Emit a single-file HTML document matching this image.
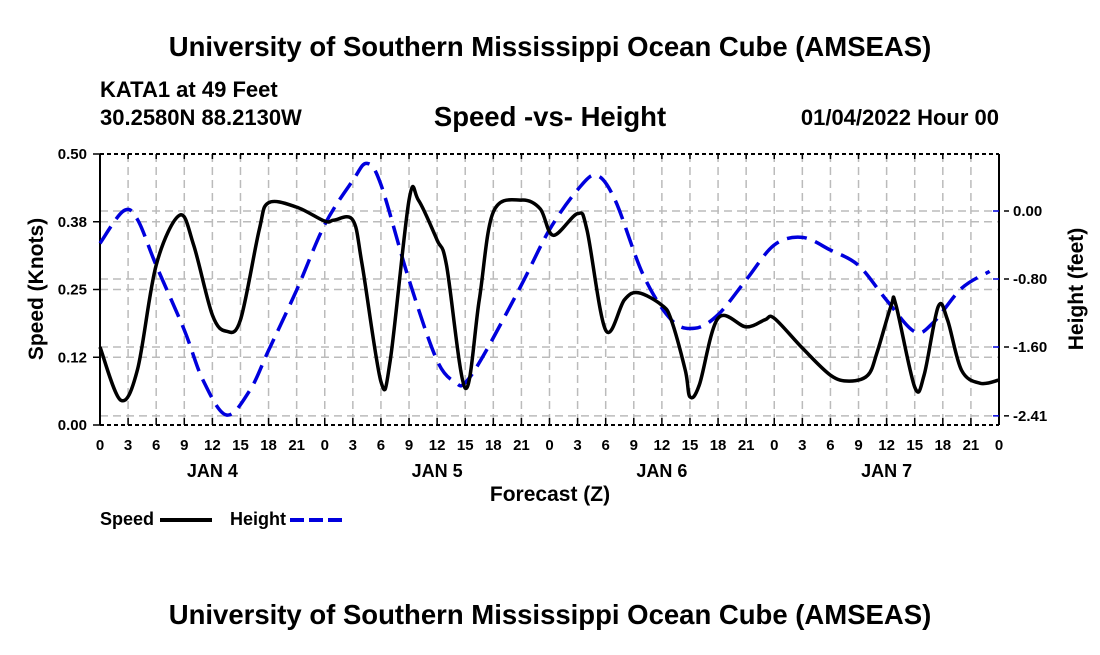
<!DOCTYPE html>
<html><head><meta charset="utf-8"><style>
body{margin:0;background:#fff;}
svg text{font-family:"Liberation Sans",Arial,sans-serif;font-weight:bold;fill:#000;}
</style></head><body>
<svg id="chart" width="1100" height="650" xmlns="http://www.w3.org/2000/svg">
<text x="550" y="56" font-size="27.5" text-anchor="middle">University of Southern Mississippi Ocean Cube (AMSEAS)</text>
<text x="100" y="97" font-size="22">KATA1 at 49 Feet</text>
<text x="100" y="125" font-size="22">30.2580N  88.2130W</text>
<text x="550" y="126" font-size="27.5" text-anchor="middle">Speed -vs- Height</text>
<text x="999" y="125" font-size="22" text-anchor="end">01/04/2022 Hour 00</text>
<g id="grid"></g>
<g id="axes"></g>
<g id="series"></g>
<text transform="translate(43,289) rotate(-90)" font-size="21" text-anchor="middle">Speed (Knots)</text>
<text transform="translate(1083,289) rotate(-90)" font-size="21" text-anchor="middle">Height (feet)</text>
<text x="550" y="501" font-size="21" text-anchor="middle">Forecast (Z)</text>
<g>
<text x="100" y="525" font-size="18">Speed</text>
<line x1="160" y1="520" x2="212" y2="520" stroke="#000" stroke-width="4"/>
<text x="230" y="525" font-size="18">Height</text>
<line x1="290" y1="520" x2="342" y2="520" stroke="#0000dd" stroke-width="4" stroke-dasharray="14,5"/>
</g>
<text x="550" y="624" font-size="27.5" text-anchor="middle">University of Southern Mississippi Ocean Cube (AMSEAS)</text>
</svg>
<script>
const speedHours=[0,2.2,4,6,8.5,10,12,13.5,15,17,18,21,24,25,27,28,30,31,33,34,36,37,39,40.5,42,45,47,48.4,51,52,54,56,57.5,60,61,62.5,63,64,66,69,71,72,75,78,80,82,83,84.5,85,87,88,89.5,90.5,92,94,96];
const speedValues=[0.144,0.046,0.102,0.295,0.387,0.332,0.203,0.173,0.194,0.36,0.41,0.402,0.376,0.378,0.378,0.295,0.08,0.12,0.415,0.415,0.341,0.295,0.068,0.231,0.393,0.415,0.399,0.35,0.39,0.36,0.175,0.231,0.244,0.221,0.194,0.101,0.052,0.074,0.197,0.181,0.194,0.197,0.142,0.092,0.081,0.092,0.135,0.221,0.221,0.07,0.092,0.218,0.194,0.101,0.077,0.083];
const heightHours=[0,2.5,4,6,9,11,13.5,16,18,21,24,27,28.5,30,33,36,38,39,41,45,48,51,53,55,58,61,63.5,66,69,72,75,78,81,84,87,89,92,95];
const heightValues=[-0.38,0.0,-0.1,-0.64,-1.4,-1.99,-2.4,-2.11,-1.64,-0.93,-0.16,0.36,0.56,0.31,-0.81,-1.76,-2.02,-2.02,-1.69,-0.87,-0.22,0.25,0.42,0.13,-0.75,-1.28,-1.38,-1.22,-0.81,-0.4,-0.31,-0.46,-0.64,-1.05,-1.42,-1.31,-0.91,-0.71];
const xTickLabels=["0","3","6","9","12","15","18","21"];
const speedTicks=[0,0.125,0.25,0.375,0.5];
const speedTickLabels=["0.00","0.12","0.25","0.38","0.50"];
const heightTicks=[0,-0.8,-1.6,-2.41];
const heightTickLabels=["0.00","-0.80","-1.60","-2.41"];
const dayLabels=["JAN 4","JAN 5","JAN 6","JAN 7"];

const X0=100,X1=999,YT=154,YB=425;
const xs=h=>X0+(X1-X0)*h/96;
const ys=v=>YB-(YB-YT)*v/0.5;
const yh=f=>211-85*f;
const NS="http://www.w3.org/2000/svg";
function mk(tag,attrs,parent){const e=document.createElementNS(NS,tag);for(const k in attrs)e.setAttribute(k,attrs[k]);parent.appendChild(e);return e;}
const gridG=document.getElementById('grid'),axesG=document.getElementById('axes'),seriesG=document.getElementById('series');
const gs={stroke:"#bbb","stroke-width":1.5,"stroke-dasharray":"8,5",fill:"none"};
for(let h=3;h<96;h+=3){const l=mk('line',Object.assign({x1:xs(h),x2:xs(h),y1:YT,y2:YB},gs),gridG);

}
speedTicks.slice(1,4).forEach(v=>{const l=mk('line',Object.assign({x1:X0,x2:X1,y1:ys(v),y2:ys(v)},gs),gridG);

});
heightTicks.forEach(v=>{const l=mk('line',Object.assign({x1:X0,x2:X1,y1:yh(v),y2:yh(v)},gs),gridG);

});
const topBorder=mk('line',{x1:X0,x2:X1,y1:YT,y2:YT,stroke:"#000","stroke-width":2,"stroke-dasharray":"4,3"},axesG);


const botBorder=mk('line',{x1:X0,x2:X1,y1:YB,y2:YB,stroke:"#000","stroke-width":2,"stroke-dasharray":"4,3"},axesG);


const leftAxis=mk('line',{x1:X0,x2:X0,y1:YT,y2:YB,stroke:"#000","stroke-width":2},axesG);


const rightAxis=mk('line',{x1:X1,x2:X1,y1:YT,y2:YB,stroke:"#000","stroke-width":2},axesG);


for(let i=0;i<=32;i++){const h=i*3;
const t=mk('line',{x1:xs(h),x2:xs(h),y1:YB,y2:YB-7,stroke:"#000","stroke-width":1.5},axesG);


const t2=mk('line',{x1:xs(h),x2:xs(h),y1:YT,y2:YT+5,stroke:"#000","stroke-width":1.5},axesG);


const tx=mk('text',{x:xs(h),y:450,"font-size":15,"text-anchor":"middle"},axesG);
tx.textContent=i==32?"0":xTickLabels[i%8];

}
dayLabels.forEach((d,i)=>{const t=mk('text',{x:xs(i*24+12),y:477,"font-size":18,"text-anchor":"middle"},axesG);t.textContent=d;

});
speedTicks.forEach((v,i)=>{const t=mk('line',{x1:X0,x2:X0-7,y1:ys(v),y2:ys(v),stroke:"#000","stroke-width":1.5},axesG);


const tx=mk('text',{x:87,y:ys(v)+5,"font-size":15,"text-anchor":"end"},axesG);tx.textContent=speedTickLabels[i];

});
heightTicks.forEach((v,i)=>{const t=mk('line',{x1:X1-6,x2:X1,y1:yh(v),y2:yh(v),stroke:"#0000dd","stroke-width":1.5},axesG);


const t2=mk('line',{x1:X1+5,x2:X1+10,y1:yh(v),y2:yh(v),stroke:"#000","stroke-width":1.5},axesG);


const tx=mk('text',{x:1013,y:yh(v)+5,"font-size":15},axesG);tx.textContent=heightTickLabels[i];

});
function smooth(pts){let d=`M${pts[0][0]},${pts[0][1]}`;
for(let i=0;i<pts.length-1;i++){const p0=pts[Math.max(0,i-1)],p1=pts[i],p2=pts[i+1],p3=pts[Math.min(pts.length-1,i+2)];
const c1=[p1[0]+(p2[0]-p0[0])/6,p1[1]+(p2[1]-p0[1])/6],c2=[p2[0]-(p3[0]-p1[0])/6,p2[1]-(p3[1]-p1[1])/6];
d+=`C${c1[0]},${c1[1]} ${c2[0]},${c2[1]} ${p2[0]},${p2[1]}`;}return d;}
const hp=mk('path',{d:smooth(heightHours.map((h,i)=>[xs(h),yh(heightValues[i])])),stroke:"#0000dd","stroke-width":3.5,fill:"none","stroke-dasharray":"20,9"},seriesG);


const sp=mk('path',{d:smooth(speedHours.map((h,i)=>[xs(h),ys(speedValues[i])])),stroke:"#000","stroke-width":3.5,fill:"none"},seriesG);


</script>
</body></html>
